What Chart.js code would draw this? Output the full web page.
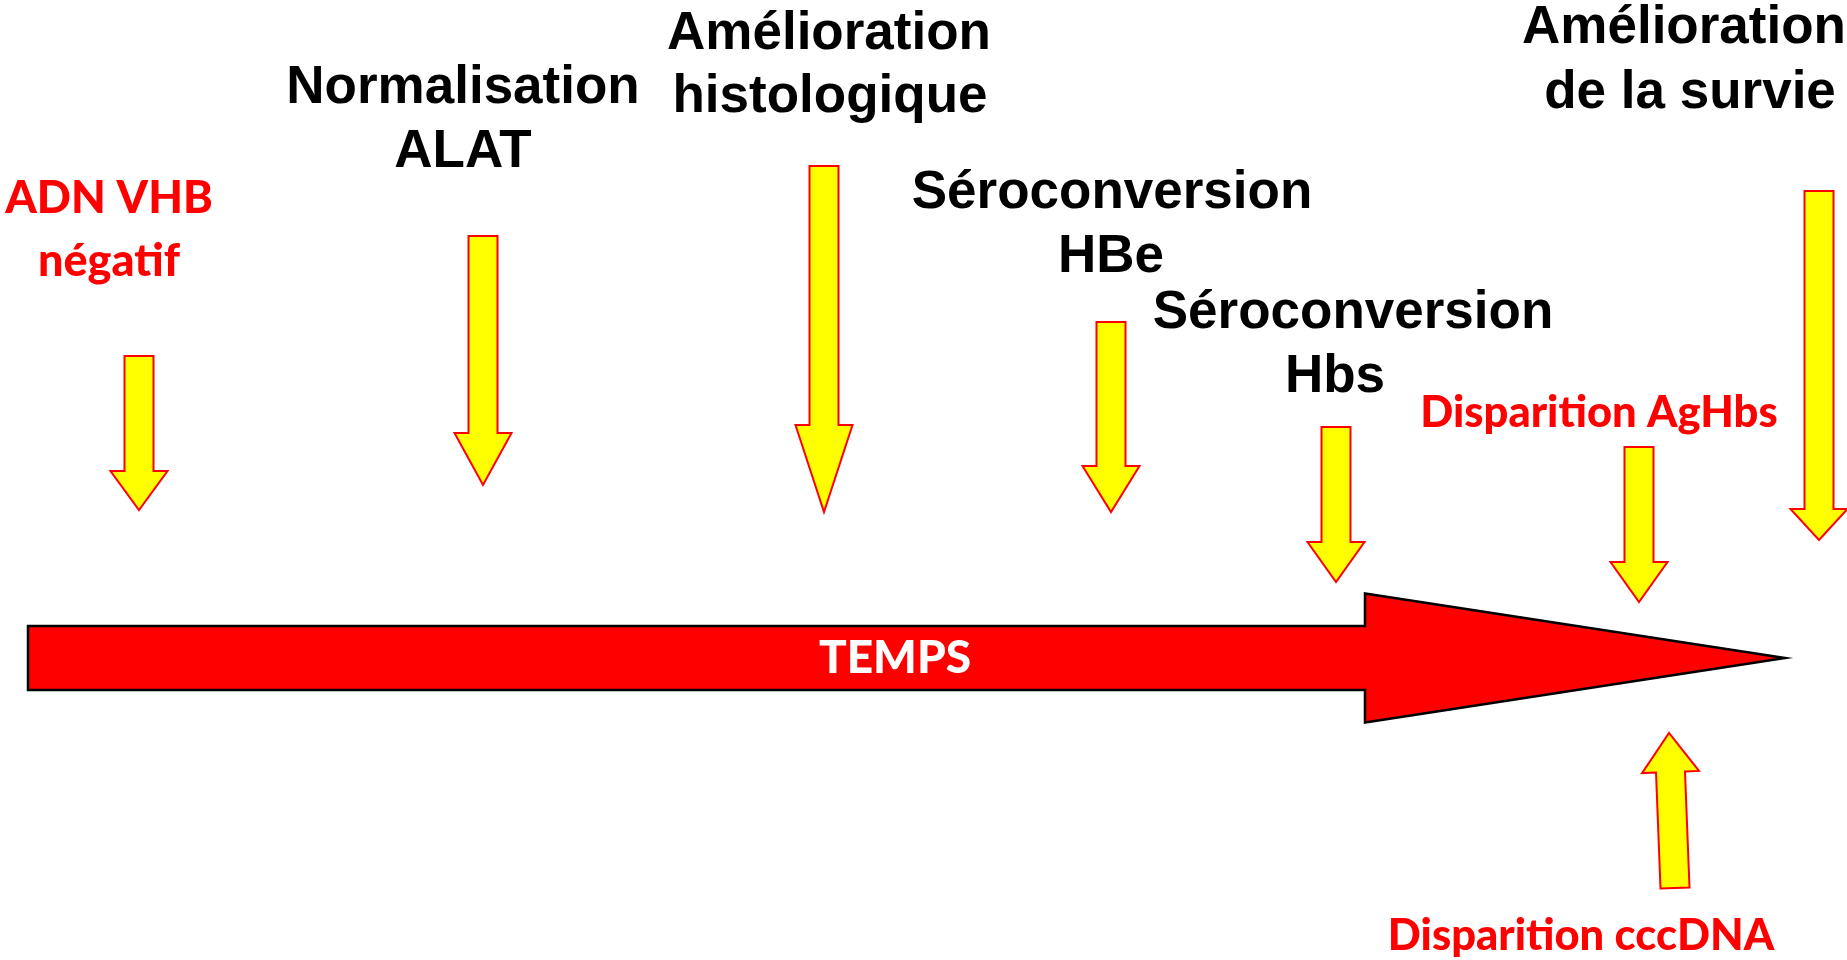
<!DOCTYPE html>
<html>
<head>
<meta charset="utf-8">
<script src="https://cdn.jsdelivr.net/npm/chart.js@4.4.1/dist/chart.umd.min.js"></script>
<style>
  html, body { margin: 0; padding: 0; background: #ffffff; overflow: hidden; }
  #wrap { width: 1847px; height: 960px; }
</style>
</head>
<body>
<div id="wrap"><canvas id="c" width="1847" height="960"></canvas></div>
<script>
// ---- Data (x = position along "TEMPS", y = vertical level) ----
const events = ['ADN VHB négatif', 'Normalisation ALAT', 'Amélioration histologique',
  'Séroconversion HBe', 'Séroconversion Hbs', 'Disparition AgHbs',
  'Amélioration de la survie', 'Disparition cccDNA'];
const eventTime = [139, 483, 824, 1111, 1336, 1639, 1819, 1669];   // arrow tip x
const tailTime  = [139, 483, 824, 1111, 1336, 1639, 1819, 1675];   // arrow tail x
const arrowTail = [356, 236, 166, 322, 427, 447, 191, 888];        // tail level
const headStart = [471, 433, 425, 466, 542, 562, 509, 772];        // head base level
const arrowTip  = [510, 485, 512, 512, 582, 602, 540, 733];        // tip level

const timeline = [28, 1365, 1785];   // start, head base, tip of the TEMPS arrow
const timelineLevel = [658];
const timelineLabel = 'TEMPS';

const labelLines = [
  ['ADN VHB', 'négatif'],
  ['Normalisation', 'ALAT'],
  ['Amélioration', 'histologique'],
  ['Séroconversion', 'HBe'],
  ['Séroconversion', 'Hbs'],
  ['Disparition AgHbs'],
  ['Amélioration', 'de la survie'],
  ['Disparition cccDNA']
];
const labelCenters = [[109, 109], [463, 463], [829, 830], [1112, 1111], [1353, 1335], [1599], [1684, 1690], [1581]];
const labelBaselines = [[213, 276], [103, 167], [49, 112], [208, 272], [328, 392], [427], [43, 108], [950]];
const labelKind = ['redBig', 'black', 'black', 'black', 'black', 'red', 'black', 'red'];

// ---- Styles ----
const STYLE = {
  redBig: { font: '900 45px Lato, "Open Sans", sans-serif', color: '#ff0000' },
  red:    { font: '900 43.5px Lato, "Open Sans", sans-serif', color: '#ff0000' },
  black:  { font: 'bold 53px "Liberation Sans", Arial, sans-serif', color: '#000000' },
  temps:  { font: '900 46px Lato, "Open Sans", sans-serif', color: '#ffffff' },
  shaftHalf: 14.5, headHalf: 28.5,
  timelineShaftHalf: 32, timelineHeadHalf: 64.5
};

const diagramPlugin = {
  id: 'diagram',
  afterDatasetsDraw(chart) {
    const { ctx } = chart;
    const xs = chart.scales.x, ys = chart.scales.y;
    const px = v => xs.getPixelForValue(v);
    const py = v => ys.getPixelForValue(v);
    ctx.save();
    ctx.lineJoin = 'miter';

    // Main TEMPS arrow
    const x0 = px(timeline[0]), x1 = px(timeline[1]), x2 = px(timeline[2]);
    const yc = py(timelineLevel[0]);
    const sh = STYLE.timelineShaftHalf, hh = STYLE.timelineHeadHalf;
    ctx.beginPath();
    ctx.moveTo(x0, yc - sh);
    ctx.lineTo(x1, yc - sh);
    ctx.lineTo(x1, yc - hh);
    ctx.lineTo(x2, yc);
    ctx.lineTo(x1, yc + hh);
    ctx.lineTo(x1, yc + sh);
    ctx.lineTo(x0, yc + sh);
    ctx.closePath();
    ctx.fillStyle = '#ff0000';
    ctx.fill();
    ctx.lineWidth = 2.5;
    ctx.strokeStyle = '#000000';
    ctx.stroke();

    ctx.font = STYLE.temps.font;
    ctx.fillStyle = STYLE.temps.color;
    ctx.textAlign = 'center';
    ctx.textBaseline = 'alphabetic';
    ctx.fillText(timelineLabel, px(895), py(673));

    // Event arrows
    for (let i = 0; i < events.length; i++) {
      const tx = px(tailTime[i]), ty = py(arrowTail[i]);
      const kx = px(eventTime[i]), ky = py(arrowTip[i]);
      const dx = kx - tx, dy = ky - ty;
      const len = Math.hypot(dx, dy);
      const ux = dx / len, uy = dy / len;     // direction
      const nx = -uy, ny = ux;                 // normal
      const hl = Math.abs(py(arrowTip[i]) - py(headStart[i])) / Math.abs(uy);
      const bx = kx - ux * hl, by = ky - uy * hl;  // head base centre
      const s = STYLE.shaftHalf, h = STYLE.headHalf;
      ctx.beginPath();
      ctx.moveTo(tx + nx * s, ty + ny * s);
      ctx.lineTo(bx + nx * s, by + ny * s);
      ctx.lineTo(bx + nx * h, by + ny * h);
      ctx.lineTo(kx, ky);
      ctx.lineTo(bx - nx * h, by - ny * h);
      ctx.lineTo(bx - nx * s, by - ny * s);
      ctx.lineTo(tx - nx * s, ty - ny * s);
      ctx.closePath();
      ctx.fillStyle = '#ffff00';
      ctx.fill();
      ctx.lineWidth = 2;
      ctx.strokeStyle = '#ff0000';
      ctx.stroke();
    }

    // Labels
    for (let i = 0; i < labelLines.length; i++) {
      const st = STYLE[labelKind[i]];
      ctx.font = st.font;
      ctx.fillStyle = st.color;
      ctx.textAlign = 'center';
      ctx.textBaseline = 'alphabetic';
      labelLines[i].forEach((line, j) => {
        ctx.fillText(line, px(labelCenters[i][j]), py(labelBaselines[i][j]));
      });
    }
    ctx.restore();
  }
};

new Chart(document.getElementById('c'), {
  type: 'scatter',
  data: {
    datasets: [{
      label: 'Événements',
      data: events.map((e, i) => ({ x: eventTime[i], y: arrowTip[i] })),
      pointRadius: 0,
      pointHoverRadius: 0
    }]
  },
  options: {
    responsive: false,
    devicePixelRatio: 1,
    animation: false,
    layout: { padding: 0 },
    plugins: { legend: { display: false }, tooltip: { enabled: false } },
    scales: {
      x: { type: 'linear', min: 0, max: 1847, display: false },
      y: { type: 'linear', min: 0, max: 960, reverse: true, display: false }
    }
  },
  plugins: [diagramPlugin]
});
</script>
</body>
</html>
